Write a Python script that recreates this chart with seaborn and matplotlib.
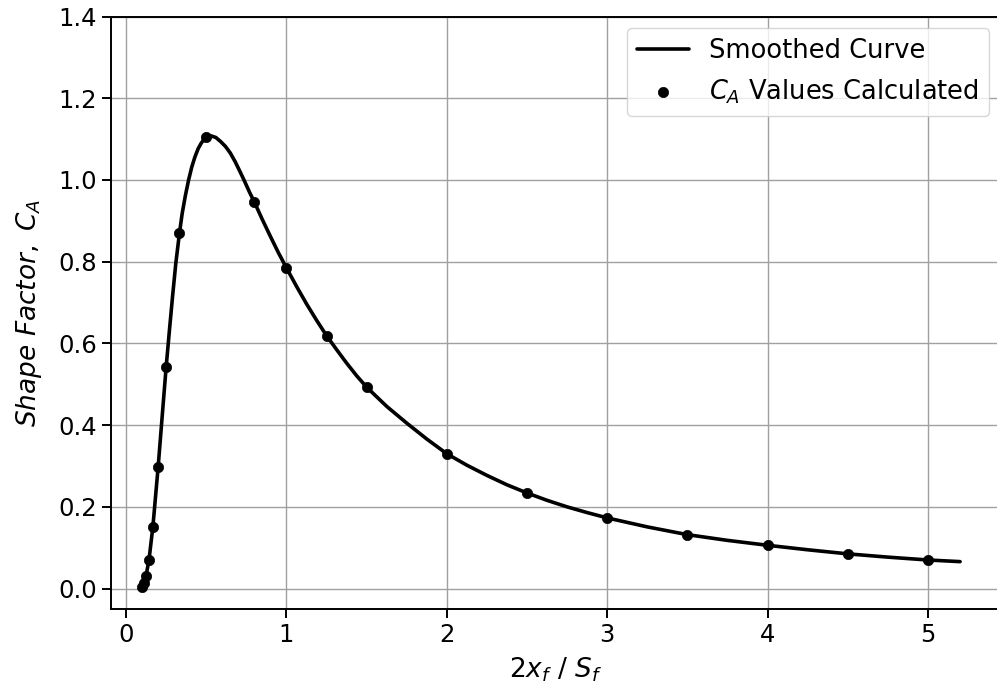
import numpy as np
import pandas as pd
import matplotlib
matplotlib.use("Agg")
import matplotlib.pyplot as plt
import seaborn as sns

# điểm tính toán C_A
x_points = [0.1, 0.111, 0.125, 0.143, 0.167, 0.2, 0.25, 0.333, 0.5, 0.8, 1.0,
            1.25, 1.5, 2.0, 2.5, 3.0, 3.5, 4.0, 4.5, 5.0]
y_points = [0.005, 0.013, 0.032, 0.070, 0.150, 0.297, 0.542, 0.870, 1.105,
            0.946, 0.785, 0.619, 0.493, 0.330, 0.234, 0.173, 0.132, 0.106,
            0.085, 0.070]

# đường cong làm trơn
x_curve = [0.1, 0.111, 0.125, 0.143, 0.167, 0.2, 0.225, 0.25, 0.27, 0.29, 0.31,
           0.333, 0.35, 0.37, 0.39, 0.41, 0.43, 0.45, 0.47, 0.49, 0.51, 0.53,
           0.56, 0.59, 0.62, 0.65, 0.68, 0.71, 0.74, 0.77, 0.8, 0.85, 0.9, 0.95,
           1.0, 1.0625, 1.125, 1.1875, 1.25, 1.3125, 1.375, 1.4375, 1.5, 1.625,
           1.75, 1.875, 2.0, 2.125, 2.25, 2.375, 2.5, 2.625, 2.75, 2.875, 3.0,
           3.25, 3.5, 3.75, 4.0, 4.25, 4.5, 4.75, 5.0, 5.1, 5.2]
y_curve = [0.005, 0.013, 0.032, 0.070, 0.150, 0.297, 0.420, 0.542, 0.630, 0.715,
           0.795, 0.870, 0.918, 0.962, 1.000, 1.032, 1.057, 1.077, 1.091, 1.101,
           1.106, 1.108, 1.104, 1.094, 1.082, 1.066, 1.045, 1.021, 0.996, 0.970,
           0.946, 0.903, 0.862, 0.822, 0.785, 0.740, 0.697, 0.657, 0.619, 0.585,
           0.552, 0.521, 0.493, 0.446, 0.405, 0.366, 0.330, 0.302, 0.277, 0.254,
           0.234, 0.216, 0.200, 0.186, 0.173, 0.151, 0.132, 0.118, 0.106, 0.095,
           0.085, 0.077, 0.070, 0.068, 0.066]

x_ticks = [0, 1, 2, 3, 4, 5]
y_ticks = [0.0, 0.2, 0.4, 0.6, 0.8, 1.0, 1.2, 1.4]

df_pts = pd.DataFrame({"x": x_points, "y": y_points})
df_curve = pd.DataFrame({"x": x_curve, "y": y_curve})

sns.set_style("ticks")
plt.rcParams["font.family"] = ["DejaVu Sans"]
plt.rcParams["mathtext.fontset"] = "dejavusans"
plt.rcParams["font.size"] = 17
plt.rcParams["text.color"] = "black"
plt.rcParams["axes.labelcolor"] = "black"

fig = plt.figure(figsize=(9.97, 6.92), dpi=100)
ax = fig.add_axes([0.1113, 0.1199, 0.8927, 0.8562])

sns.lineplot(data=df_curve, x="x", y="y", ax=ax, color="black", linewidth=2.6,
             sort=False, label="Smoothed Curve", zorder=3)
sns.scatterplot(data=df_pts, x="x", y="y", ax=ax, color="black", s=55,
                edgecolor="black", linewidth=0.5, label=r"$C_A$ Values Calculated",
                zorder=4)

ax.set_xlim(-0.094, 5.455)
ax.set_ylim(-0.05, 1.4)
ax.set_xticks(x_ticks)
ax.set_yticks(y_ticks)
ax.set_yticklabels([f"{v:.1f}" for v in y_ticks])
ax.grid(True, color="#a0a0a0", linewidth=1.0)
ax.set_axisbelow(True)

for sp in ax.spines.values():
    sp.set_linewidth(1.4)
    sp.set_color("black")
ax.tick_params(length=6.5, width=1.4, labelsize=17.5, colors="black")

ax.set_xlabel(r"$2x_f\ /\ S_f$", fontsize=19, labelpad=6)
ax.set_ylabel(r"$Shape\ Factor,\ C_A$", fontsize=19, labelpad=10)

leg = ax.legend(loc="upper right", fontsize=18.5, frameon=True, framealpha=0.8,
                edgecolor="#cccccc", fancybox=True, borderaxespad=0.45)
for t in leg.get_texts():
    t.set_color("black")

fig.savefig("out.png", dpi=100)
